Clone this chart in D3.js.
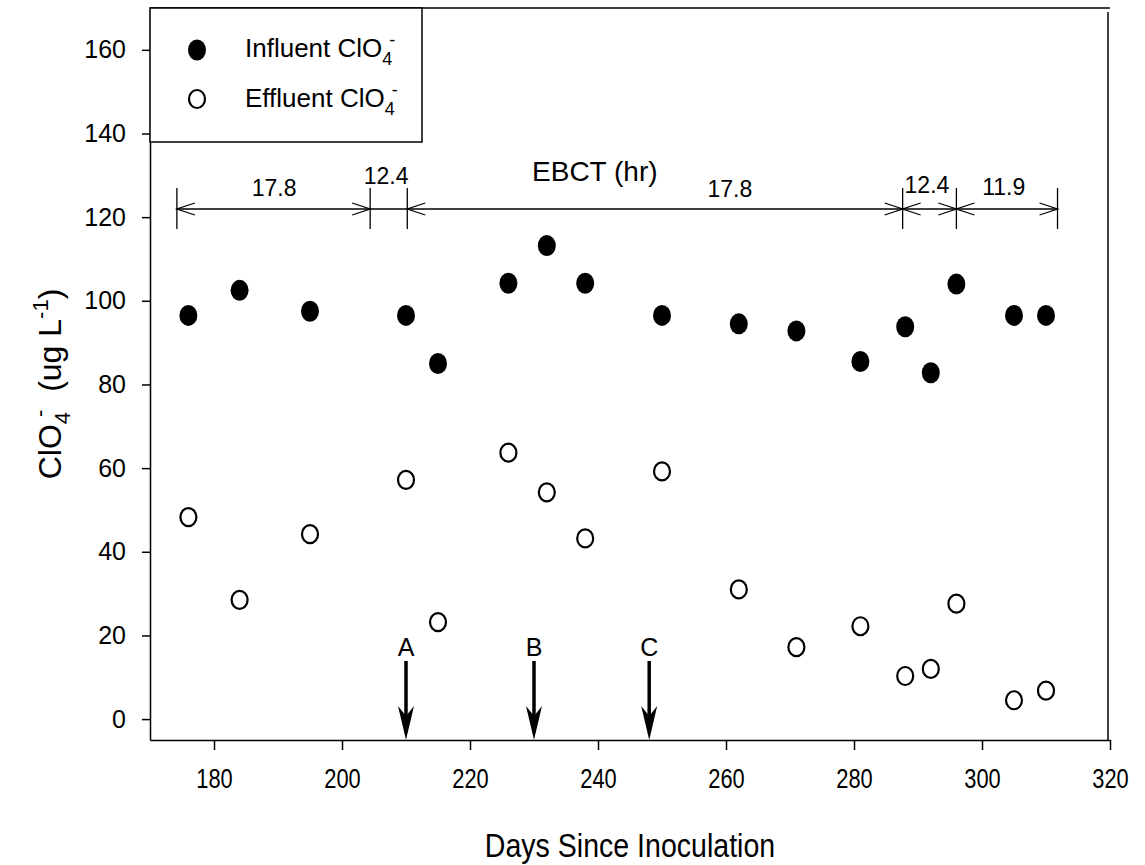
<!DOCTYPE html>
<html>
<head>
<meta charset="utf-8">
<script src="https://cdn.jsdelivr.net/npm/d3@7"></script>
<style>
  body { margin: 0; background: #fff; }
  text { font-family: "Liberation Sans", Arial, sans-serif; fill: #000; }
</style>
</head>
<body>
<svg id="chart"></svg>
<script>
// Perchlorate influent / effluent vs. days since inoculation
const days = [176, 184, 195, 210, 215, 226, 232, 238, 250, 262, 271, 281, 288, 292, 296, 305, 310];
const influent = [96.5, 102.5, 97.5, 96.5, 85, 104.2, 113.2, 104.2, 96.5, 94.5, 92.8, 85.5, 93.8, 82.8, 104, 96.5, 96.5];
const effluent = [48.3, 28.5, 44.2, 57.2, 23.2, 63.7, 54.2, 43.2, 59.2, 31, 17.2, 22.2, 10.3, 12, 27.6, 4.5, 6.8];

const xTicks = [180, 200, 220, 240, 260, 280, 300, 320];
const yTicks = [0, 20, 40, 60, 80, 100, 120, 140, 160];

// EBCT periods (day boundaries) and labels
const ebctBounds = [174.2, 204.4, 210.2, 287.6, 296, 311.8];
const ebctHeads = [true, false, true, true, true];
const ebctLabels = ["17.8", "12.4", "17.8", "12.4", "11.9"];
const ebctLabelDays = [189.4, 206.9, 260.6, 291.4, 303.4];
const ebctLabelY = [196, 184, 197, 193, 195];

const events = ["A", "B", "C"];
const eventDays = [210, 230, 248];

const width = 1145, height = 865;
const svg = d3.select("#chart").attr("width", width).attr("height", height);

const x = d3.scaleLinear().domain([170, 320]).range([150, 1110]);
const y = d3.scaleLinear().domain([-5, 170]).range([740, 8]);

// frame
svg.append("line").attr("x1", 150).attr("x2", 1110).attr("y1", 8).attr("y2", 8)
    .attr("stroke", "#000").attr("stroke-width", 1.5);
svg.append("line").attr("x1", 1108).attr("x2", 1108).attr("y1", 12).attr("y2", 740)
    .attr("stroke", "#000").attr("stroke-width", 1.5);

// axes
const xAxis = svg.append("g")
    .attr("transform", "translate(0,740)")
    .call(d3.axisBottom(x).tickValues(xTicks).tickSize(10).tickSizeOuter(0).tickPadding(18));
xAxis.selectAll("text").style("font-size", "28px").attr("transform", "scale(0.78,1)");

const yAxis = svg.append("g")
    .attr("transform", "translate(150,0)")
    .call(d3.axisLeft(y).tickValues(yTicks).tickSize(8).tickSizeOuter(0).tickPadding(16));
yAxis.selectAll("text").style("font-size", "25px");

svg.selectAll(".domain").attr("stroke-width", 1.5);
svg.selectAll(".tick line").attr("stroke-width", 1.5);
svg.selectAll(".tick text").attr("font-family", null).attr("fill", "#000");

// axis titles
svg.append("text")
    .attr("transform", "translate(630,857) scale(0.84,1)")
    .attr("text-anchor", "middle")
    .style("font-size", "34px")
    .text("Days Since Inoculation");

const yt = svg.append("text")
    .attr("transform", "translate(61,384) rotate(-90)")
    .attr("text-anchor", "middle")
    .style("font-size", "32px");
yt.append("tspan").text("ClO");
yt.append("tspan").attr("dy", 9).style("font-size", "22px").text("4");
yt.append("tspan").attr("dy", -23).attr("dx", -5).style("font-size", "22px").text("-");
yt.append("tspan").attr("dy", 14).text("\u00a0 (ug L");
yt.append("tspan").attr("dy", -13).style("font-size", "22px").text("-1");
yt.append("tspan").attr("dy", 13).text(")");

// EBCT annotation
const ebct = svg.append("g").attr("stroke", "#000").attr("fill", "none");
const lineY = 209;
ebct.append("line")
    .attr("x1", x(ebctBounds[0])).attr("x2", x(ebctBounds[ebctBounds.length - 1]))
    .attr("y1", lineY).attr("y2", lineY).attr("stroke-width", 1.5);
ebct.selectAll(".bar").data(ebctBounds).enter().append("line")
    .attr("x1", d => x(d)).attr("x2", d => x(d))
    .attr("y1", 188).attr("y2", 229).attr("stroke-width", 1.3);
ebctHeads.forEach((h, i) => {
    if (!h) return;
    const a = x(ebctBounds[i]), b = x(ebctBounds[i + 1]);
    ebct.append("path").attr("d", `M${a + 18},${lineY - 6}L${a},${lineY}L${a + 18},${lineY + 6}`).attr("stroke-width", 1.3);
    ebct.append("path").attr("d", `M${b - 18},${lineY - 6}L${b},${lineY}L${b - 18},${lineY + 6}`).attr("stroke-width", 1.3);
});
svg.selectAll(".ebctLabel").data(ebctLabels).enter().append("text")
    .attr("x", (d, i) => x(ebctLabelDays[i]))
    .attr("y", (d, i) => ebctLabelY[i])
    .attr("text-anchor", "middle")
    .style("font-size", "23px")
    .text(d => d);
svg.append("text")
    .attr("x", x(239.5)).attr("y", 181)
    .attr("text-anchor", "middle")
    .style("font-size", "28px")
    .text("EBCT (hr)");

// event arrows
events.forEach((lab, i) => {
    const ax = x(eventDays[i]);
    svg.append("line").attr("x1", ax).attr("x2", ax).attr("y1", 661).attr("y2", 722)
        .attr("stroke", "#000").attr("stroke-width", 3.5);
    svg.append("path")
        .attr("d", `M${ax - 8},${706}L${ax},${740}L${ax + 8},${706}L${ax},${716}Z`)
        .attr("fill", "#000");
    svg.append("text").attr("x", ax).attr("y", 656)
        .attr("text-anchor", "middle").style("font-size", "25px").text(lab);
});

// data points
svg.append("g").selectAll("ellipse")
    .data(days.map((d, i) => [d, influent[i]]))
    .enter().append("ellipse")
    .attr("cx", d => x(d[0])).attr("cy", d => y(d[1]))
    .attr("rx", 9).attr("ry", 10.5)
    .attr("fill", "#000");

svg.append("g").selectAll("ellipse")
    .data(days.map((d, i) => [d, effluent[i]]))
    .enter().append("ellipse")
    .attr("cx", d => x(d[0])).attr("cy", d => y(d[1]))
    .attr("rx", 8).attr("ry", 9)
    .attr("fill", "#fff").attr("stroke", "#000").attr("stroke-width", 2.2);

// legend
const lg = svg.append("g");
lg.append("rect").attr("x", 150).attr("y", 8).attr("width", 272).attr("height", 134)
    .attr("fill", "#fff").attr("stroke", "#000").attr("stroke-width", 1.5);
lg.append("ellipse").attr("cx", 197).attr("cy", 50).attr("rx", 9).attr("ry", 10.5).attr("fill", "#000");
lg.append("ellipse").attr("cx", 197).attr("cy", 99).attr("rx", 8).attr("ry", 9)
    .attr("fill", "#fff").attr("stroke", "#000").attr("stroke-width", 2.2);
[["Influent ClO", 57], ["Effluent ClO", 107]].forEach(([t, by]) => {
    const tx = lg.append("text").attr("x", 245).attr("y", by).style("font-size", "26px");
    tx.append("tspan").text(t);
    tx.append("tspan").attr("dy", 8).style("font-size", "18px").text("4");
    tx.append("tspan").attr("dy", -19).attr("dx", -3).style("font-size", "18px").text("-");
});
</script>
</body>
</html>
